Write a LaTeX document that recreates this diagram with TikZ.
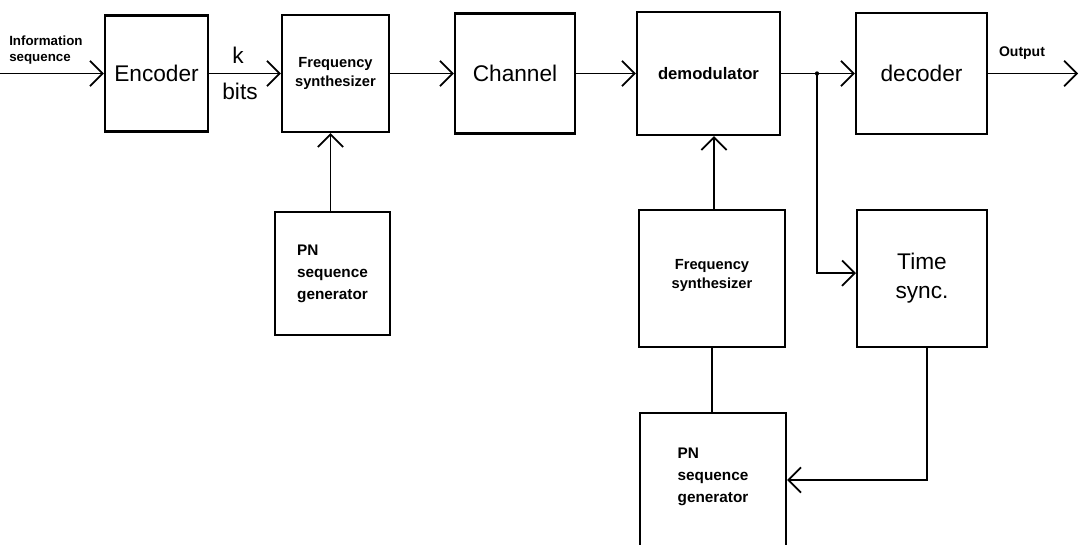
\documentclass[tikz,border=0pt]{standalone}
\usepackage{fontspec}
\setmainfont{Liberation Sans}
\usetikzlibrary{arrows.meta}

\tikzset{
  blk/.style={draw, line width=1.6pt, inner sep=0pt, align=center},
  big/.style={font=\fontsize{17}{21.75}\selectfont},
  small/.style={font=\bfseries\fontsize{11}{14.25}\selectfont},
  pnlabel/.style={font=\bfseries\fontsize{11.5}{16.5}\selectfont, align=left},
  conn/.style={line width=1.3pt},
  arr/.style={conn, -{Straight Barb[length=9.5pt, width=19pt, line width=1.3pt]}},
  note/.style={inner sep=0pt}
}

\begin{document}
\begin{tikzpicture}[x=0.75pt, y=-0.75pt]
  \clip (0,0) rectangle (1079,544);

  % transmitter chain
  \node[blk, big, minimum width=77.25pt, minimum height=87pt] (enc) at (156.5,73.5) {Encoder};
  \node[blk, small, minimum width=80.25pt, minimum height=87.75pt] (fs1) at (335.5,73.5) {Frequency\\synthesizer};
  \node[blk, big, minimum width=90pt, minimum height=90pt] (ch) at (515,73.5) {Channel};
  \node[blk, font=\bfseries\fontsize{12.5}{15}\selectfont, minimum width=107.25pt, minimum height=92.25pt] (dem) at (708.5,73.5) {demodulator};
  \node[blk, big, minimum width=98.25pt, minimum height=90.75pt] (dec) at (921.5,73.5) {decoder};

  % lower blocks
  \node[blk, pnlabel, minimum width=86.25pt, minimum height=92.25pt] (pn1) at (332.5,273.5) {PN\\sequence\\generator};
  \node[blk, small, minimum width=109.5pt, minimum height=102.75pt] (fs2) at (712,278.5) {Frequency\\synthesizer\\[-7pt]~};
  \node[blk, big, minimum width=97.5pt, minimum height=102.75pt] (ts) at (922,278.5) {Time\\sync.};
  \node[blk, pnlabel, minimum width=109.5pt, minimum height=100.5pt] (pn2) at (713,480) {PN\\sequence\\generator\\[-9pt]~};

  % free ends and branch point
  \coordinate (in) at (0,73.5);
  \coordinate (out) at (1078,73.5);
  \coordinate (j) at (817,73.5);

  % signal path
  \draw[arr] (in) -- (enc.west);
  \draw[arr] (enc.east) -- (fs1.west);
  \draw[arr] (fs1.east) -- (ch.west);
  \draw[arr] (ch.east) -- (dem.west);
  \draw[conn] (dem.east) -- (j);
  \draw[arr] (j) -- (dec.west);
  \draw[arr] (dec.east) -- (out);
  \fill (j) circle (1.6pt);

  % hopping and synchronisation paths
  \draw[arr] ([xshift=-1.5pt]pn1.north) -- ([xshift=-1.5pt]pn1.north |- fs1.south);
  \draw[arr] ([xshift=1.5pt]fs2.north) -- ([xshift=1.5pt]fs2.north |- dem.south);
  \draw[conn] (fs2.south) -- (fs2.south |- pn2.north);
  \draw[arr] (j) |- ([yshift=4pt]ts.west);
  \draw[arr] ([xshift=3.75pt]ts.south) |- (pn2.east);

  % labels
  \node[note, font=\bfseries\fontsize{10}{12}\selectfont, align=left, anchor=west] (inlbl) at (9,50) {Information\\sequence};
  \node[note, big] (k) at (238,55) {k};
  \node[note, big] (bits) at (240,91) {bits};
  \node[note, font=\bfseries\fontsize{10.5}{12}\selectfont] (outlbl) at (1022,53) {Output};
\end{tikzpicture}
\end{document}
